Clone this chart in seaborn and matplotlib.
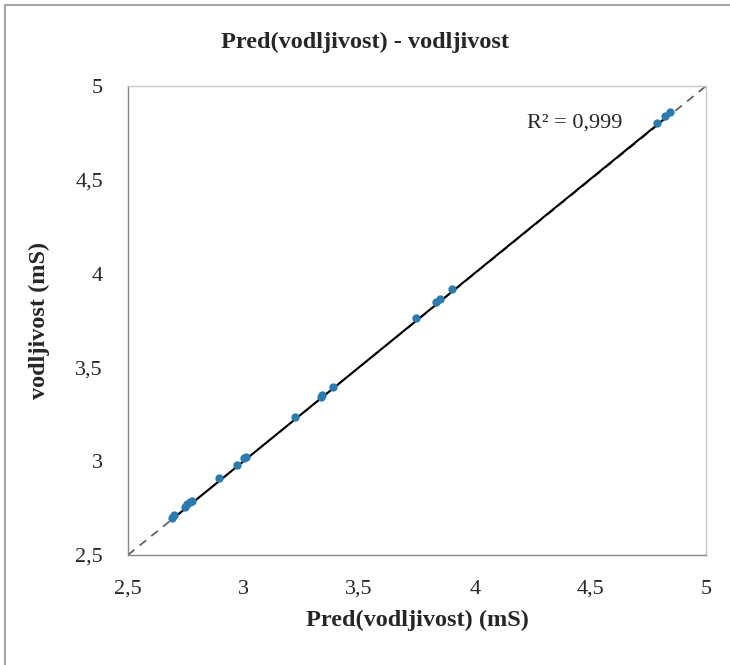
import numpy as np
import pandas as pd
import matplotlib.pyplot as plt
import matplotlib.patches as mpatches
import matplotlib.transforms as mtransforms
import seaborn as sns

# values
pred = [2.689, 2.700, 2.747, 2.757, 2.768, 2.775, 2.895, 2.970, 3.003, 3.010,
        3.222, 3.333, 3.340, 3.385, 3.746, 3.832, 3.850, 3.900, 4.787, 4.823, 4.844]
measured = [2.686, 2.700, 2.743, 2.757, 2.770, 2.777, 2.897, 2.968, 3.002, 3.010,
            3.224, 3.331, 3.341, 3.384, 3.752, 3.834, 3.853, 3.904, 4.791, 4.826, 4.850]
ticks = [2.5, 3, 3.5, 4, 4.5, 5]
tick_labels = ["2,5", "3", "3,5", "4", "4,5", "5"]
r2_text = "R² = 0,999"

df = pd.DataFrame({"pred": pred, "vodljivost": measured})

sns.set_style("white")
plt.rcParams["font.family"] = ["Liberation Serif", "DejaVu Serif"]

fig = plt.figure(figsize=(7.3, 6.65), dpi=100)
ax = fig.add_axes([128 / 730, 1 - 555 / 665, 578 / 730, 469 / 665])

# y = x reference line
ax.plot([2.5, 5], [2.5, 5], color="#595959", lw=1.2, dashes=(5, 4), zorder=1)

# trendline
sns.regplot(data=df, x="pred", y="vodljivost", ax=ax, scatter=False, ci=None,
            truncate=True, line_kws={"color": "black", "lw": 1.5, "zorder": 2})

sns.scatterplot(data=df, x="pred", y="vodljivost", ax=ax, color="#2B7BAE",
                s=36, edgecolor="#2B7BAE", linewidth=0, zorder=3)
# markers sit a little above the line in the original rendering
shift = mtransforms.ScaledTranslation(0, 2.5 / 100, fig.dpi_scale_trans)
ax.collections[-1].set_offset_transform(ax.transData + shift)

ax.set_xlim(2.5, 5)
ax.set_ylim(2.5, 5)
ax.set_xticks(ticks)
ax.set_xticklabels(tick_labels)
ax.set_yticks(ticks)
ax.set_yticklabels(tick_labels)
ax.tick_params(axis="both", direction="inout", length=10, width=1, color="#888888",
               labelsize=16, pad=13)

for side in ["left", "bottom"]:
    ax.spines[side].set_color("#888888")
for side in ["top", "right"]:
    ax.spines[side].set_color("#C8C8C8")
for s in ax.spines.values():
    s.set_linewidth(1)

ax.set_xlabel("Pred(vodljivost) (mS)", fontsize=17.5, fontweight="bold", labelpad=8)
ax.set_ylabel("vodljivost (mS)", fontsize=17.5, fontweight="bold", labelpad=18)
# title is centred on the whole chart, not on the plot area
fig.suptitle("Pred(vodljivost) - vodljivost", fontsize=17.5, fontweight="bold",
             x=0.5, y=1 - 42 / 665, va="center")

ax.text(0.690, 0.921, r2_text, transform=ax.transAxes, fontsize=16, va="center",
        ha="left")

# outer chart border
fig.patches.append(mpatches.Rectangle((5 / 730, -0.1), 1.2, 1.1 - 5 / 665,
                                      transform=fig.transFigure, fill=False,
                                      edgecolor="#A6A6A6", lw=1.5))

fig.savefig("out.png", dpi=100)
